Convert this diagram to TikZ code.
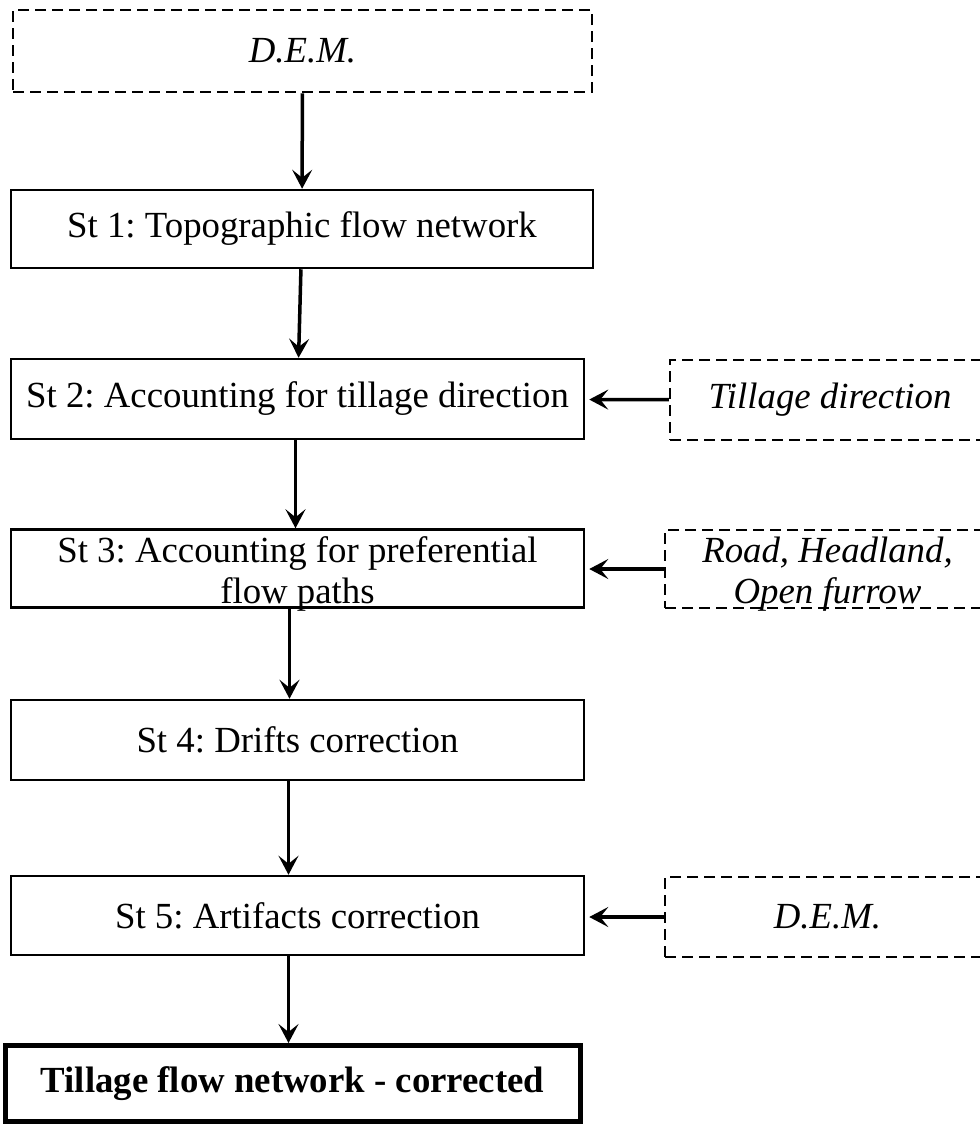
\documentclass[tikz,border=0pt]{standalone}
\usepackage{fontspec}
\setmainfont{Liberation Serif}
\usetikzlibrary{arrows.meta}
\usetikzlibrary{positioning}
\frenchspacing

\begin{document}
\begin{tikzpicture}[x=1pt, y=-1pt,
    stepbox/.style={rectangle, draw, line width=2.5pt, inner sep=0pt, align=center, font=\fontsize{36.8}{41}\selectfont},
    databox/.style={rectangle, draw, dash pattern=on 11pt off 6pt, line width=2.5pt, inner sep=0pt, align=center, font=\fontsize{36.8}{41}\selectfont\itshape},
    boxtext/.style={inner sep=0pt, align=center, font=\fontsize{36.8}{41}\selectfont},
    link/.style={-{Stealth[length=19pt, width=20pt, inset=8pt]}, line width=3.5pt}]
    \useasboundingbox (0,0) rectangle (980,1128);

    % Define nodes
    \node[databox, minimum width=579pt, minimum height=82pt] (dem) at (302.5,51) {D.E.M.};
    \node[stepbox, minimum width=582pt, minimum height=78pt] (topo) at (302,229) {St 1: Topographic flow network};
    \node[stepbox, minimum width=573pt, minimum height=80pt] (till) at (297.5,399) {St 2: Accounting for tillage direction};
    \node[databox, minimum width=320pt, minimum height=80pt] (tilldir) at (830,400) {Tillage direction};
    \node[stepbox, minimum width=573pt, minimum height=78pt] (pref) at (297.5,568.5) {};
    \node[boxtext] (preftext) at ([yshift=-5pt]pref.center) {St 3: Accounting for preferential\\ flow paths};
    \node[databox, minimum width=325pt, minimum height=78pt] (roads) at (827.5,569) {};
    \node[boxtext, font=\fontsize{36.8}{41}\selectfont\itshape] (roadstext) at ([yshift=-5pt]roads.center) {Road, Headland,\\ Open furrow};
    \node[stepbox, minimum width=573pt, minimum height=80pt] (drift) at (297.5,740) {St 4: Drifts correction};
    \node[stepbox, minimum width=573pt, minimum height=79pt] (artif) at (297.5,915.5) {St 5: Artifacts correction};
    \node[databox, minimum width=325pt, minimum height=80pt] (dem2) at (827.5,917) {D.E.M.};
    \node[stepbox, line width=5pt, minimum width=575pt, minimum height=76pt, font=\fontsize{36.8}{41}\selectfont\bfseries] (final) at (292.5,1083.5) {Tillage flow network - corrected};

    % Connect nodes with arrows
    \draw[link] (dem) -- (topo);
    \draw[link] (topo) -- (till);
    \draw[link] ([xshift=-2pt]till.south) -- ([xshift=-2pt]till.south |- pref.north);
    \draw[link] ([xshift=-8pt]pref.south) -- ([xshift=-8pt]pref.south |- drift.north);
    \draw[link] ([xshift=-9pt]drift.south) -- ([xshift=-9pt]drift.south |- artif.north);
    \draw[link] ([xshift=-9pt]artif.south) -- ([xshift=-4pt]final.north);

    \draw[link, shorten >=4pt] (tilldir) -- (till);
    \draw[link, shorten >=4pt] (roads.west) -- (pref.east |- roads.west);
    \draw[link, shorten >=4pt] (dem2.west) -- (artif.east |- dem2.west);
\end{tikzpicture}
\end{document}
